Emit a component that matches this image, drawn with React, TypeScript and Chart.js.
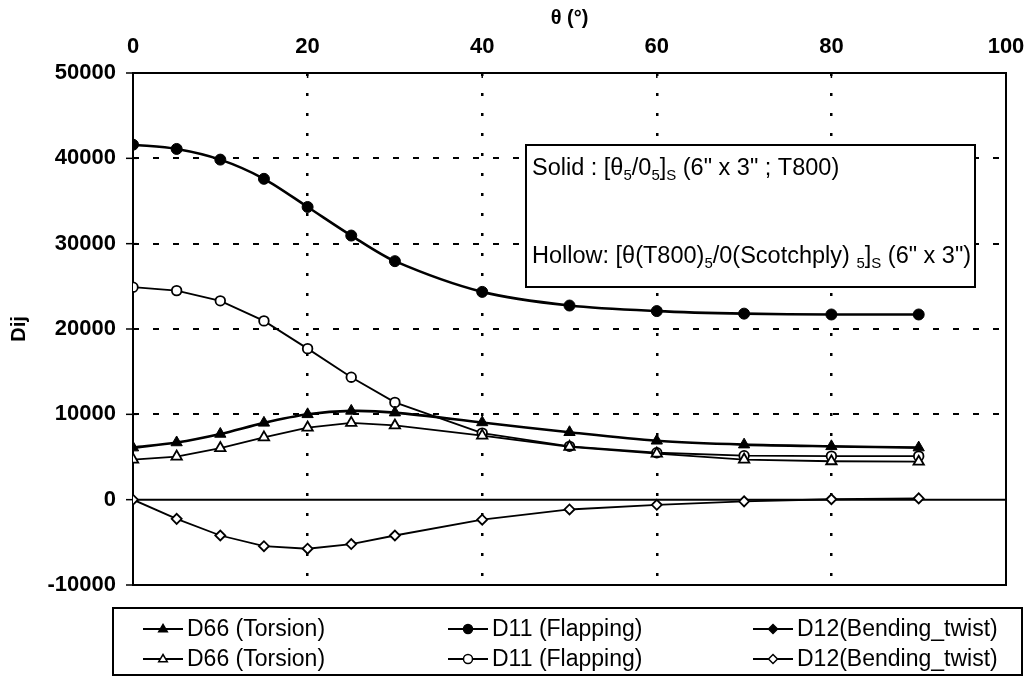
import React, { useEffect, useRef } from 'react';
import { Chart, registerables } from 'chart.js';

Chart.register(...registerables);

// ---- data ----
const THETA = [0, 5, 10, 15, 20, 25, 30, 40, 50, 60, 70, 80, 90];
const D66_SOLID = [6100, 6700, 7700, 9000, 10000, 10400, 10200, 9050, 7900, 6900, 6450, 6250, 6100];
const D11_SOLID = [41600, 41100, 39850, 37600, 34300, 30950, 27950, 24350, 22750, 22100, 21800, 21700, 21700];
const D12_SOLID: number[] = [];
const D66_HOLLOW = [4700, 5050, 6050, 7300, 8450, 9000, 8700, 7500, 6200, 5400, 4700, 4500, 4450];
const D11_HOLLOW = [24900, 24500, 23300, 20950, 17700, 14350, 11400, 7800, 6250, 5500, 5150, 5100, 5100];
const D12_HOLLOW = [0, -2250, -4200, -5450, -5750, -5200, -4200, -2350, -1150, -600, -200, 50, 150];

const LABEL_D66 = 'D66 (Torsion)';
const LABEL_D11 = 'D11 (Flapping)';
const LABEL_D12 = 'D12(Bending_twist)';

const X_MIN = 0;
const X_MAX = 100;
const X_STEP = 20;
const Y_MIN = -10000;
const Y_MAX = 50000;
const Y_STEP = 10000;

const X_TITLE = 'θ (°)';
const Y_TITLE = 'Dij';

type Run = { t: string; sub?: boolean };
const NOTE_SOLID: Run[] = [
  { t: 'Solid : [θ' }, { t: '5', sub: true }, { t: '/0' }, { t: '5', sub: true },
  { t: ']' }, { t: 'S', sub: true }, { t: ' (6" x 3" ; T800)' },
];
const NOTE_HOLLOW: Run[] = [
  { t: 'Hollow: [θ(T800)' }, { t: '5', sub: true }, { t: '/0(Scotchply) ' }, { t: '5', sub: true },
  { t: ']' }, { t: 'S', sub: true }, { t: ' (6" x 3")' },
];

const FONT = '"Liberation Sans", Arial, Helvetica, sans-serif';

const pts = (ys: number[]) => ys.map((y, i) => ({ x: THETA[i], y }));

function drawMarker(ctx: CanvasRenderingContext2D, style: string, x: number, y: number, r: number, fill: string, lw: number) {
  ctx.save();
  ctx.beginPath();
  if (style === 'circle') {
    ctx.arc(x, y, r, 0, Math.PI * 2);
  } else if (style === 'triangle') {
    ctx.moveTo(x, y - r);
    ctx.lineTo(x + r * 0.95, y + r * 0.6);
    ctx.lineTo(x - r * 0.95, y + r * 0.6);
    ctx.closePath();
  } else {
    ctx.moveTo(x, y - r);
    ctx.lineTo(x + r, y);
    ctx.lineTo(x, y + r);
    ctx.lineTo(x - r, y);
    ctx.closePath();
  }
  ctx.fillStyle = fill;
  ctx.fill();
  ctx.lineWidth = lw;
  ctx.strokeStyle = '#000';
  ctx.stroke();
  ctx.restore();
}

function drawRuns(ctx: CanvasRenderingContext2D, runs: Run[], x: number, baseline: number) {
  let cx = x;
  for (const r of runs) {
    ctx.font = r.sub ? `15px ${FONT}` : `23.5px ${FONT}`;
    ctx.fillText(r.t, cx, r.sub ? baseline + 5 : baseline);
    cx += ctx.measureText(r.t).width;
  }
}

const framePlugin = {
  id: 'frame',
  beforeDatasetsDraw(chart: any) {
    const { ctx, chartArea: a, scales } = chart;
    const y0 = scales.y.getPixelForValue(0);
    ctx.save();
    ctx.strokeStyle = '#000';
    ctx.lineWidth = 2;
    ctx.setLineDash([]);
    ctx.beginPath();
    ctx.moveTo(a.left, y0);
    ctx.lineTo(a.right, y0);
    ctx.stroke();
    // frame
    ctx.strokeRect(a.left, a.top, a.right - a.left, a.bottom - a.top);
    // tick marks
    ctx.lineWidth = 1.5;
    for (let v = Y_MIN; v <= Y_MAX; v += Y_STEP) {
      const py = scales.y.getPixelForValue(v);
      ctx.beginPath();
      ctx.moveTo(a.left - 7, py);
      ctx.lineTo(a.left + 4, py);
      ctx.stroke();
    }
    for (let v = X_MIN; v <= X_MAX; v += X_STEP) {
      const px = scales.x.getPixelForValue(v);
      ctx.beginPath();
      ctx.moveTo(px, a.top);
      ctx.lineTo(px, a.top + 5);
      ctx.stroke();
    }
    ctx.restore();
  },
  afterDraw(chart: any) {
    const { ctx } = chart;
    ctx.save();
    // annotation box
    const bx = 526, by = 145, bw = 449, bh = 142;
    ctx.fillStyle = '#fff';
    ctx.fillRect(bx, by, bw, bh);
    ctx.strokeStyle = '#000';
    ctx.lineWidth = 2;
    ctx.strokeRect(bx, by, bw, bh);
    ctx.fillStyle = '#000';
    ctx.textBaseline = 'alphabetic';
    ctx.textAlign = 'left';
    drawRuns(ctx, NOTE_SOLID, bx + 6, by + 30);
    drawRuns(ctx, NOTE_HOLLOW, bx + 6, by + 118);

    // legend
    const lx = 113, ly = 608, lw = 909, lh = 67;
    ctx.fillStyle = '#fff';
    ctx.fillRect(lx, ly, lw, lh);
    ctx.lineWidth = 2;
    ctx.strokeRect(lx, ly, lw, lh);
    const cols = [163, 468, 773];
    const rows = [629, 659];
    chart.data.datasets.forEach((ds: any, i: number) => {
      const cx = cols[i % 3];
      const cy = rows[Math.floor(i / 3)];
      ctx.strokeStyle = '#000';
      ctx.lineWidth = 2;
      ctx.beginPath();
      ctx.moveTo(cx - 20, cy);
      ctx.lineTo(cx + 20, cy);
      ctx.stroke();
      drawMarker(ctx, ds.pointStyle, cx, cy, 4.5, ds.pointBackgroundColor, 1.5);
      ctx.fillStyle = '#000';
      ctx.font = `23px ${FONT}`;
      ctx.textBaseline = 'middle';
      ctx.fillText(ds.label, cx + 24, cy + 1);
    });
    ctx.restore();
  },
};

function makeDataset(label: string, ys: number[], style: string, solid: boolean, radius: number) {
  return {
    label,
    data: pts(ys),
    borderColor: '#000',
    backgroundColor: solid ? '#000' : '#fff',
    pointBackgroundColor: solid ? '#000' : '#fff',
    pointBorderColor: '#000',
    pointBorderWidth: solid ? 1 : 1.8,
    pointStyle: style,
    pointRadius: radius,
    borderWidth: solid ? 2.6 : 1.8,
    tension: solid ? 0.3 : 0,
    fill: false,
  };
}

export default function App() {
  const ref = useRef<HTMLCanvasElement>(null);
  useEffect(() => {
    if (!ref.current) return;
    const chart = new Chart(ref.current, {
      type: 'line',
      data: {
        datasets: [
          makeDataset(LABEL_D66, D66_SOLID, 'triangle', true, 6.5),
          makeDataset(LABEL_D11, D11_SOLID, 'circle', true, 5.5),
          makeDataset(LABEL_D12, D12_SOLID, 'rectRot', true, 5),
          makeDataset(LABEL_D66, D66_HOLLOW, 'triangle', false, 6),
          makeDataset(LABEL_D11, D11_HOLLOW, 'circle', false, 4.8),
          makeDataset(LABEL_D12, D12_HOLLOW, 'rectRot', false, 5),
        ] as any,
      },
      options: {
        animation: false,
        responsive: false,
        layout: { padding: { left: 0, top: 0, right: 23, bottom: 91 } },
        plugins: { legend: { display: false }, tooltip: { enabled: false } },
        scales: {
          x: {
            type: 'linear',
            position: 'top',
            min: X_MIN,
            max: X_MAX,
            ticks: {
              stepSize: X_STEP,
              color: '#000',
              font: { family: FONT, size: 22, weight: 'bold' },
              padding: 13,
              callback: (v: any) => String(v),
            },
            grid: {
              color: (c: any) => (c.tick && (c.tick.value === X_MIN || c.tick.value === X_MAX) ? 'rgba(0,0,0,0)' : '#000'),
              lineWidth: 2.5,
              drawTicks: false,
            },
            border: { display: false, dash: [3, 17] },
            title: {
              display: true,
              text: X_TITLE,
              color: '#000',
              font: { family: FONT, size: 20, weight: 'bold' },
              padding: { top: 6, bottom: 0 },
            },
            afterFit: (s: any) => { s.height = 73; s.paddingLeft = 0; s.paddingRight = 0; },
          },
          y: {
            type: 'linear',
            min: Y_MIN,
            max: Y_MAX,
            ticks: {
              stepSize: Y_STEP,
              color: '#000',
              font: { family: FONT, size: 22, weight: 'bold' },
              padding: 17,
              callback: (v: any) => String(v),
            },
            grid: {
              color: (c: any) => (c.tick && (c.tick.value === Y_MIN || c.tick.value === Y_MAX || c.tick.value === 0) ? 'rgba(0,0,0,0)' : '#000'),
              lineWidth: 2,
              drawTicks: false,
            },
            border: { display: false, dash: [6, 14] },
            title: {
              display: true,
              text: Y_TITLE,
              color: '#000',
              font: { family: FONT, size: 20, weight: 'bold' },
              padding: { top: 7, bottom: 0 },
            },
            afterFit: (s: any) => { s.width = 133; },
          },
        },
      } as any,
      plugins: [framePlugin],
    });
    return () => chart.destroy();
  }, []);
  return (
    <div style={{ position: 'fixed', left: 0, top: 0, width: 1029, height: 676, background: '#fff' }}>
      <canvas ref={ref} width={1029} height={676} style={{ display: 'block' }} />
    </div>
  );
}
